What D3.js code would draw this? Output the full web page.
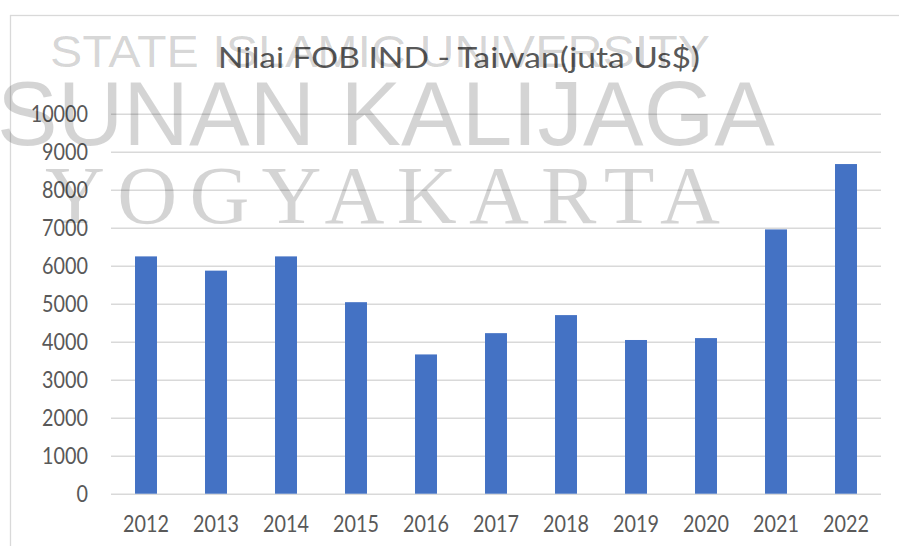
<!DOCTYPE html>
<html>
<head>
<meta charset="utf-8">
<script src="https://cdn.jsdelivr.net/npm/d3@7"></script>
<style>
  body { margin: 0; background: #fff; }
  svg { display: block; }
</style>
</head>
<body>
<div id="chart"></div>
<script>
// data
const years = ["2012", "2013", "2014", "2015", "2016", "2017", "2018", "2019", "2020", "2021", "2022"];
const fobValues = [6245, 5870, 6245, 5040, 3665, 4225, 4700, 4045, 4095, 6955, 8675];
const yTicks = [0, 1000, 2000, 3000, 4000, 5000, 6000, 7000, 8000, 9000, 10000];
const chartTitle = "Nilai FOB IND - Taiwan(juta Us$)";

const width = 899;
const height = 546;
const textCol = "#595959";
const gridCol = "#d9d9d9";
const labelFont = "Lato, 'Open Sans', sans-serif";

const svg = d3.select("#chart")
    .append("svg")
    .attr("width", width)
    .attr("height", height);

// chart border (runs off the right/bottom edge)
svg.append("rect")
    .attr("x", 10.5)
    .attr("y", 15.5)
    .attr("width", 1000)
    .attr("height", 1000)
    .attr("fill", "none")
    .attr("stroke", gridCol)
    .attr("stroke-width", 1.3);

const xScale = d3.scaleBand()
    .domain(years)
    .range([111, 881])
    .paddingInner(0.686)
    .paddingOuter(0.343);

const yScale = d3.scaleLinear()
    .domain([0, 10000])
    .range([493.7, 113.7]);

// gridlines
const makeYLines = () => d3.axisLeft().scale(yScale);

svg.append("g")
    .attr("class", "grid")
    .attr("transform", "translate(111, 0)")
    .call(makeYLines()
        .tickValues(yTicks)
        .tickSize(-770)
        .tickFormat(""))
    .call(g => g.select(".domain").remove())
    .selectAll("line")
        .attr("stroke", gridCol)
        .attr("stroke-width", 1.4);

// bars
svg.append("g")
    .selectAll("rect")
    .data(years)
    .enter()
    .append("rect")
    .attr("x", d => xScale(d))
    .attr("y", (d, i) => yScale(fobValues[i]))
    .attr("width", xScale.bandwidth())
    .attr("height", (d, i) => yScale(0) - yScale(fobValues[i]))
    .attr("fill", "#4472c4");

// y axis labels (squeezed sideways, the picture is a bit tall)
svg.append("g")
    .attr("transform", "translate(88, 0)")
    .call(d3.axisLeft(yScale).tickValues(yTicks).tickSize(0).tickPadding(0).tickFormat(d3.format("d")))
    .call(g => g.select(".domain").remove())
    .selectAll("text")
        .attr("fill", textCol)
        .attr("transform", "scale(0.86, 1)")
        .style("font-family", labelFont)
        .style("font-size", "23px");

// x axis labels
svg.append("g")
    .attr("transform", "translate(0, 493.7)")
    .call(d3.axisBottom(xScale).tickSize(0).tickPadding(0))
    .call(g => g.select(".domain").remove())
    .selectAll("text")
        .attr("y", 38)
        .attr("dy", 0)
        .attr("fill", textCol)
        .attr("transform", "scale(0.86, 1)")
        .style("font-family", labelFont)
        .style("font-size", "23px");

// title
svg.append("text")
    .attr("class", "title")
    .attr("x", 459)
    .attr("y", 68)
    .attr("text-anchor", "middle")
    .attr("textLength", 482)
    .attr("lengthAdjust", "spacingAndGlyphs")
    .attr("fill", textCol)
    .style("font-family", labelFont)
    .style("font-size", "28px")
    .text(chartTitle);

// university watermark laid over the chart
const wm = svg.append("g")
    .attr("fill", "#000")
    .attr("fill-opacity", 0.17)
    .style("pointer-events", "none");

wm.append("text")
    .attr("x", 50)
    .attr("y", 67)
    .attr("textLength", 660)
    .attr("lengthAdjust", "spacingAndGlyphs")
    .style("font-family", "'Liberation Sans', Arial, sans-serif")
    .style("font-size", "45px")
    .text("STATE ISLAMIC UNIVERSITY");

wm.append("text")
    .attr("x", -3)
    .attr("y", 145)
    .attr("textLength", 778)
    .attr("lengthAdjust", "spacingAndGlyphs")
    .style("font-family", "'Liberation Sans', Arial, sans-serif")
    .style("font-size", "90px")
    .text("SUNAN KALIJAGA");

wm.append("text")
    .attr("x", 45)
    .attr("y", 223)
    .attr("textLength", 675)
    .attr("lengthAdjust", "spacing")
    .style("font-family", "'Liberation Serif', 'Times New Roman', serif")
    .style("font-size", "83px")
    .text("YOGYAKARTA");
</script>
</body>
</html>
